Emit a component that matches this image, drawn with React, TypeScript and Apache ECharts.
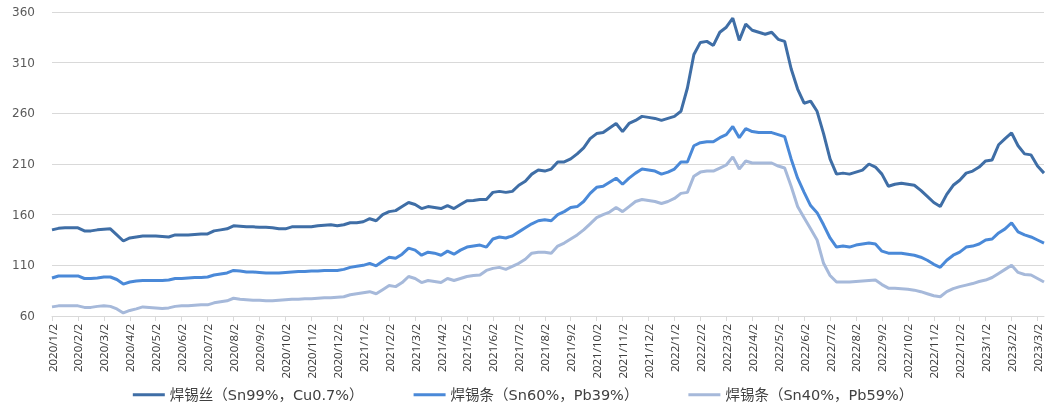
import React, { useEffect, useRef } from "react";
import * as echarts from "echarts";

// Weekly sample dates: day 2, 9, 16, 23 of each month, 2020/1/2 .. 2023/3/9
const weekDays = [2, 9, 16, 23];
const categories: string[] = [];
for (let y = 2020; y <= 2023; y++) {
  for (let m = 1; m <= 12; m++) {
    for (const d of weekDays) {
      if (y === 2023 && (m > 3 || (m === 3 && d > 9))) continue;
      categories.push(`${y}/${m}/${d}`);
    }
  }
}

const seriesNames = [
  "焊锡丝（Sn99%，Cu0.7%）",
  "焊锡条（Sn60%，Pb39%）",
  "焊锡条（Sn40%，Pb59%）",
];

const sn99 = [
  145, 146.5, 147, 147, 147, 144, 144, 145, 145.5, 146, 140, 134, 137, 138, 139, 139,
  139, 138.5, 138, 140, 140, 140, 140.5, 141, 141, 144, 145, 146, 149, 148.5, 148, 148,
  147.5, 147.5, 147, 146, 146, 148, 148, 148, 148, 149, 149.5, 150, 149, 150, 152, 152,
  153, 156, 154, 160, 163, 164, 168, 172, 170, 166, 168, 167, 166, 169, 166, 170,
  173.8, 174, 175, 175, 182, 183, 182, 183, 189, 193, 200, 204, 203, 205, 212, 212,
  215, 220, 226, 235, 240, 241, 245.6, 250, 242, 250, 253, 257, 256, 255, 253, 255,
  257, 262, 285, 318, 330, 331, 327, 340, 345, 354, 332, 348, 342, 340, 338, 340,
  333, 331, 304, 284, 270, 272, 262, 240, 215, 200, 201, 200, 202, 204, 210, 207,
  200, 188, 190, 191, 190, 189, 184, 178, 172, 168, 180, 189, 194, 201, 203, 207,
  213, 214, 229, 235, 240.6, 228, 220, 219, 208, 201,
];

const sn60 = [
  97.5, 99.5, 99.5, 99.5, 99.5, 97, 97, 97.5, 98.5, 98.5, 96, 91.5, 93.5, 94.5, 95, 95,
  95, 95, 95.5, 97, 97, 97.5, 98, 98, 98.5, 100.5, 101.5, 102.5, 105, 104.5, 103.5, 103.5,
  103, 102.5, 102.5, 102.5, 103, 103.5, 104, 104, 104.5, 104.5, 105, 105, 105, 106, 108, 109,
  110, 112, 109.5, 114, 118, 117, 121, 127, 125, 120, 123, 122, 120, 124, 121, 125,
  128, 129, 130, 128, 136, 138, 137, 139, 143, 147, 151, 154, 155, 154, 160, 163,
  167, 168, 173, 181, 187, 188, 192, 196, 190, 196, 201, 205, 204, 203, 200, 202,
  205, 212, 212, 228, 231, 232, 232, 236, 239, 247, 236, 245, 242, 241, 241, 241,
  239, 237, 215, 196, 182, 169, 162, 150, 137, 128, 129, 128, 130, 131, 132, 131,
  124, 122, 122, 122, 121, 120, 118, 115, 111, 108, 115, 120, 123, 128, 129, 131,
  135, 136, 142, 146, 152, 143, 140, 138, 135, 132,
];

const sn40 = [
  69, 70, 70, 70, 70, 68.5, 68.5, 69.5, 70, 69.5, 67, 63, 65.5, 67, 69, 68.5,
  68, 67.5, 68, 69.5, 70, 70, 70.5, 71, 71, 73, 74, 75, 77.5, 76.5, 76, 75.5,
  75.5, 75, 75, 75.5, 76, 76.5, 76.5, 77, 77, 77.5, 78, 78, 78.5, 79, 81, 82,
  83, 84, 82, 86, 90, 89, 93, 99, 97, 93, 95, 94, 93, 97, 95, 97,
  99, 100, 100.5, 105, 107, 108, 106, 109, 112, 116, 122, 123, 123, 122, 129, 132,
  136, 140, 145, 151, 157, 160, 162.6, 167, 163, 168, 173, 175, 174, 173, 171, 173,
  176, 181, 182, 198, 202, 203, 203, 206, 209, 217, 205, 213, 211, 211, 211, 211,
  208, 206, 188, 168, 157, 146, 135, 112, 100, 93.5, 93.5, 93.5, 94, 94.5, 95, 95.5,
  91, 87.5, 87.5, 87, 86.5, 85.5, 84, 82, 80, 79, 84, 87, 89, 90.5, 92, 94,
  95.5, 98, 102, 106, 110, 103, 101, 100.5, 97, 93.5,
];

const yMin = 60;
const yMax = 360;
const yStep = 50;

const colors = ["#3F6EA6", "#4A89D8", "#A6B9DA"];

const isMonthLabel = (_i: number, v: string) => v.endsWith("/2");

export default function App() {
  const ref = useRef<HTMLDivElement>(null);
  useEffect(() => {
    if (!ref.current) return;
    const chart = echarts.init(ref.current, undefined, { renderer: "svg" });
    const data = [sn99, sn60, sn40];
    chart.setOption({
      animation: false,
      color: colors,
      grid: { left: 52, right: 2, top: 12, bottom: 91, containLabel: false },
      legend: {
        bottom: 0,
        left: "center",
        itemGap: 50,
        itemWidth: 32,
        itemHeight: 3,
        icon: "rect",
        textStyle: {
          fontFamily: "DejaVu Sans, Noto Sans CJK SC",
          fontSize: 14.5,
          color: "#404040",
        },
        data: seriesNames,
      },
      xAxis: {
        type: "category",
        data: categories,
        boundaryGap: false,
        axisLine: { lineStyle: { color: "#D9D9D9", width: 1 } },
        axisTick: {
          show: true,
          interval: isMonthLabel,
          length: 5,
          lineStyle: { color: "#D9D9D9" },
        },
        axisLabel: {
          interval: isMonthLabel,
          rotate: 90,
          margin: 8,
          fontFamily: "Noto Sans",
          fontSize: 11.5,
          color: "#404040",
        },
        splitLine: { show: false },
      },
      yAxis: {
        type: "value",
        min: yMin,
        max: yMax,
        interval: yStep,
        axisLine: { show: false },
        axisTick: { show: false },
        axisLabel: {
          margin: 17,
          fontFamily: "DejaVu Sans",
          fontSize: 12,
          color: "#595959",
        },
        splitLine: { lineStyle: { color: "#D9D9D9", width: 1 } },
      },
      series: seriesNames.map((name, i) => ({
        name,
        type: "line",
        data: data[i],
        showSymbol: false,
        symbol: "none",
        lineStyle: { width: 3, color: colors[i] },
        itemStyle: { color: colors[i] },
      })),
    });
    return () => chart.dispose();
  }, []);
  return (
    <div
      ref={ref}
      style={{ position: "fixed", left: 0, top: 0, width: 1046, height: 407 }}
    />
  );
}
